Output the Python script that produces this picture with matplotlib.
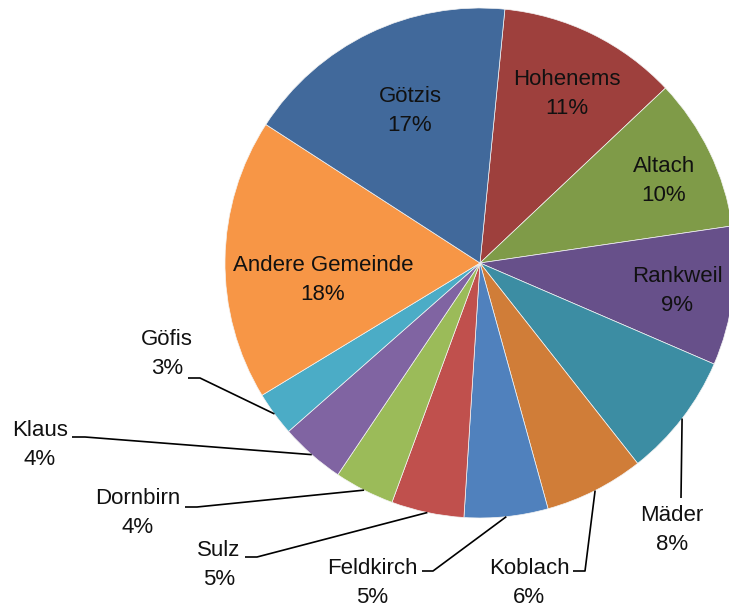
import matplotlib.pyplot as plt
import numpy as np

# Anteile nach Gemeinde, im Uhrzeigersinn ab Hohenems
gemeinden = ['Hohenems', 'Altach', 'Rankweil', 'Mäder', 'Koblach', 'Feldkirch',
             'Sulz', 'Dornbirn', 'Klaus', 'Göfis', 'Andere Gemeinde', 'Götzis']
anteile = [11.4, 9.7, 8.8, 7.9, 6.3, 5.3, 4.6, 3.8, 4.1, 2.8, 17.8, 17.4]
farben = ['#9E403D', '#7F9B48', '#67508A', '#3C8DA3', '#D07D38', '#5081BD',
          '#C0504D', '#9BBB59', '#8064A2', '#4BACC6', '#F79646', '#41699B']

W, H = 729, 609
CX, CY, R = 480, 263, 255


def px(x, y):
    # Pixelposition -> Datenkoordinaten (Kreismitte 0/0, Radius 1)
    return (x - CX) / R, (CY - y) / R


schrift = dict(family=['Liberation Sans', 'DejaVu Sans'], fontsize=16,
               color='#111111', linespacing=1.5)

# Beschriftungen im Kreis
innen = {
    'Götzis': (410, 111), 'Hohenems': (567, 94), 'Altach': (664, 181),
    'Rankweil': (677, 291), 'Andere Gemeinde': (323, 280),
}
# Beschriftungen außen: Textmitte und Knick der Führungslinie
aussen = {
    'Göfis': ((167, 354), [(188, 378), (200, 378)]),
    'Klaus': ((40, 445), [(72, 437), (85, 437)]),
    'Dornbirn': ((138, 513), [(185, 507), (197, 507)]),
    'Sulz': ((219, 565), [(245, 557), (257, 557)]),
    'Feldkirch': ((372, 583), [(422, 571), (433, 571)]),
    'Koblach': ((529, 583), [(573, 571), (585, 571)]),
    'Mäder': ((672, 530), [(681, 498)]),
}

fig = plt.figure(figsize=(W / 100, H / 100), dpi=100)
ax = fig.add_axes([0, 0, 1, 1])
wedges, _ = ax.pie(anteile, colors=farben, startangle=84.4, counterclock=False,
                   radius=1, wedgeprops=dict(edgecolor='#f4f4f4', linewidth=0.5))
ax.set_xlim(-CX / R, (W - CX) / R)
ax.set_ylim((CY - H) / R, CY / R)
ax.set_aspect('auto')
ax.axis('off')

summe = sum(anteile)
for name, wert, keil in zip(gemeinden, anteile, wedges):
    text = f'{name}\n{wert / summe * 100:.0f}%'
    if name in innen:
        x, y = px(*innen[name])
        ax.text(x, y, text, ha='center', va='center', **schrift)
    else:
        pos, knick = aussen[name]
        x, y = px(*pos)
        ax.text(x, y, text, ha='center', va='center', **schrift)
        mitte = np.deg2rad((keil.theta1 + keil.theta2) / 2)
        pts = [px(*p) for p in knick] + [(np.cos(mitte), np.sin(mitte))]
        xs, ys = zip(*pts)
        ax.plot(xs, ys, color='black', lw=1.2, solid_capstyle='butt')

fig.savefig('out.png', dpi=100)
